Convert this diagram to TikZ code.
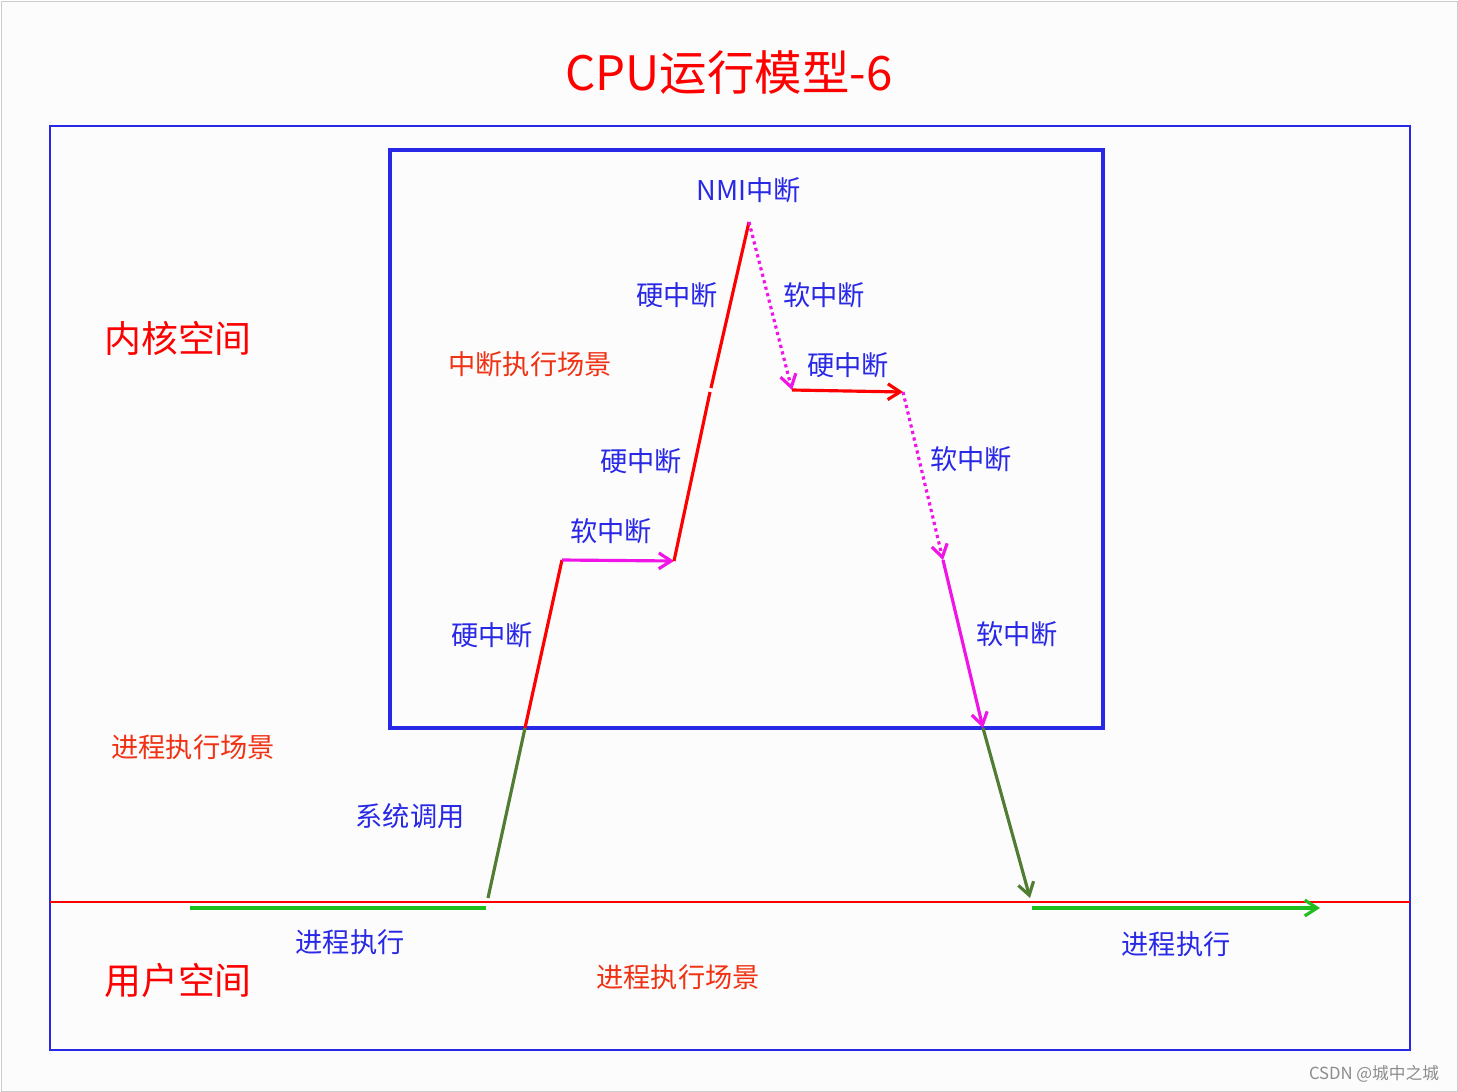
\documentclass[tikz,border=0pt]{standalone}
\usepackage{fontspec}
\setmainfont{Noto Sans CJK SC}
\usetikzlibrary{arrows.meta,calc}
\definecolor{lblue}{RGB}{40,40,230}
\definecolor{scene}{RGB}{240,50,20}
\definecolor{dgreen}{RGB}{80,125,50}
\definecolor{lgreen}{RGB}{30,190,30}
\definecolor{pink}{RGB}{240,20,230}
\tikzset{
  lbl/.style={text=lblue, font=\fontsize{15.5}{17}\selectfont, inner sep=0pt},
  scenelbl/.style={text=scene, font=\fontsize{15.5}{17}\selectfont, inner sep=0pt},
  spacelbl/.style={text=red, font=\fontsize{21}{24}\selectfont, inner sep=0pt},
  seg/.style={line width=1.8pt},
  arr/.style={line width=1.8pt, -{Straight Barb[length=7pt,width=9pt]}}
}
\begin{document}
\begin{tikzpicture}[x=0.02cm, y=-0.02cm]
        % Frame
        \useasboundingbox (0,0) rectangle (1458,1092);
        \draw[black!20, fill=black!1] (1,1) rectangle (1457,1091);
        \node[text=red, font=\fontsize{27}{30}\selectfont] (title) at (729,73) {CPU运行模型-6};
        \draw[lblue, line width=1pt] (50,126) rectangle (1410,1050);
        \draw[lblue, line width=2pt] (390,150) rectangle (1103,728);
        \draw[red, line width=0.8pt] (50,902) -- (1410,902);

        % Points
        \coordinate (u1) at (190,908);
        \coordinate (u2) at (486,908);
        \coordinate (s0) at (488,898);
        \coordinate (k0) at (525,728);
        \coordinate (k1) at (562,560);
        \coordinate (k2) at (674,561);
        \coordinate (k3) at (710,390);
        \coordinate (nmi) at (749,222);
        \coordinate (k4) at (792,390);
        \coordinate (k5) at (903,392);
        \coordinate (k6) at (943,560);
        \coordinate (k7) at (983,728);
        \coordinate (u3) at (1030,898);
        \coordinate (u4) at (1032,908);
        \coordinate (u5) at (1320,908);

        % Paths
        \draw[lgreen, seg] (u1) -- (u2);
        \draw[dgreen, seg] (s0) -- (k0);
        \draw[red, seg] (k0) -- (k1);
        \draw[pink, arr] (k1) -- (k2);
        \draw[red, seg] (k2) -- ($(k3)+(0,2)$);
        \draw[red, seg] ($(k3)+(1,-2)$) -- (nmi);
        \draw[pink, arr, dotted] (nmi) -- (k4);
        \draw[red, arr] (k4) -- (k5);
        \draw[pink, arr, dotted] (k5) -- (k6);
        \draw[pink, arr] (k6) -- (k7);
        \draw[dgreen, arr] (k7) -- (u3);
        \draw[lgreen, arr] (u4) -- (u5);

        % Labels
        \node[spacelbl] (kspace) at (178,338) {内核空间};
        \node[spacelbl] (uspace) at (178,980) {用户空间};
        \node[scenelbl] (pscene1) at (193,747) {进程执行场景};
        \node[scenelbl] (iscene) at (530,364) {中断执行场景};
        \node[scenelbl] (pscene2) at (678,977) {进程执行场景};
        \node[lbl] (syscall) at (410,816) {系统调用};
        \node[lbl] (run1) at (350,942) {进程执行};
        \node[lbl] (run2) at (1176,944) {进程执行};
        \node[lbl] (nmilbl) at (749,190) {NMI中断};
        \node[lbl] (hard1) at (492,635) {硬中断};
        \node[lbl] (soft1) at (611,531) {软中断};
        \node[lbl] (hard2) at (641,461) {硬中断};
        \node[lbl] (hard3) at (677,295) {硬中断};
        \node[lbl] (soft2) at (824,295) {软中断};
        \node[lbl] (hard4) at (848,365) {硬中断};
        \node[lbl] (soft3) at (971,459) {软中断};
        \node[lbl] (soft4) at (1017,634) {软中断};
        \node[text=black!45, font=\fontsize{9.5}{11}\selectfont] (mark) at (1374,1074) {CSDN @城中之城};
\end{tikzpicture}
\end{document}
